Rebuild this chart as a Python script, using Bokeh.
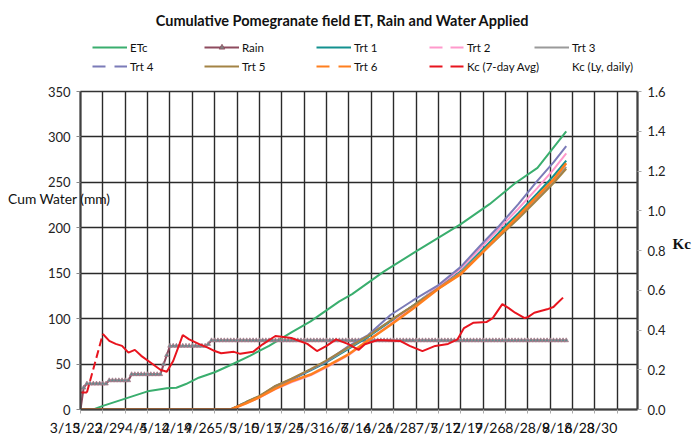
import numpy as np
from bokeh.plotting import figure
from bokeh.layouts import column
from bokeh.models import (Range1d, LinearAxis, FixedTicker, Legend, LegendItem, Label,
                          PrintfTickFormatter, CustomJSTickFormatter)
from bokeh.embed import file_html
from bokeh.resources import INLINE

# ---------------- data (x = days since 3/15) ----------------
week_labels = ["3/15", "3/22", "3/29", "4/5", "4/12", "4/19", "4/26", "5/3", "5/10",
               "5/17", "5/24", "5/31", "6/7", "6/14", "6/21", "6/28", "7/5", "7/12",
               "7/19", "7/26", "8/2", "8/9", "8/16", "8/23", "8/30"]
week_days = [7 * i for i in range(len(week_labels))]

etc_days = [0, 4, 7, 14, 21, 27, 30, 33, 37, 42, 47, 53, 59, 66, 72, 81, 85, 95, 105,
            119, 128, 136, 143, 152]
etc_mm = [0, 0, 4, 12, 20, 23.5, 24, 28, 35, 41, 49, 59, 70, 85, 97, 119, 127, 152, 174,
          204, 226, 249, 266, 306]

rain_event_days = [1, 2, 9, 16, 26, 27, 28, 40, 41]
rain_event_mm = [24, 4.4, 3.6, 6.7, 11, 10, 10.3, 2, 4]
rain_last_day = 152

trt_days = [0, 47, 52, 56, 61, 66, 72, 77, 84, 90, 97, 104, 112, 119, 125, 131, 137,
            143, 148, 152]
trt1 = [0, 0, 8.5, 14.5, 25, 33, 43, 52, 67, 80, 97, 114, 135, 152, 173, 195, 216, 238, 257, 274]
trt2 = [0, 0, 7, 13, 22.5, 30, 37.5, 46.5, 60, 76, 94, 113, 136, 155, 177, 199, 221, 244, 264, 282]
trt3 = [0, 0, 8, 14.5, 25.5, 33.5, 44, 53, 68, 81, 98, 114, 134, 151, 171, 192, 212, 233, 251, 267]
trt4 = [0, 0, 8, 14, 26, 33, 44, 53, 70, 82, 104, 120, 137, 157, 180, 202, 226, 252, 272, 290]
trt5 = [0, 0, 8.5, 15, 26, 34, 44.5, 54, 69, 81, 98, 114, 133, 150, 170, 190, 210, 231, 249, 265]
trt6 = [0, 0, 7, 13.5, 23, 31, 38.5, 47.5, 61, 76, 93, 111, 133, 149, 170, 192, 213, 235, 253, 271]

kc_days = [0, 2, 7, 9, 11, 13, 15, 17, 19, 22, 25, 27, 29, 31, 32, 34, 37, 40, 42, 44,
           48, 50, 54, 57, 61, 66, 71, 74, 77, 80, 84, 87, 89, 93, 100, 103, 107, 111,
           115, 118, 120, 123, 127, 129, 132, 134, 136, 139, 140, 142, 146, 148, 149, 151]
kc_avg = [0.085, 0.085, 0.38, 0.345, 0.33, 0.32, 0.286, 0.30, 0.27, 0.235, 0.20, 0.19,
          0.244, 0.33, 0.375, 0.353, 0.33, 0.31, 0.294, 0.283, 0.29, 0.28, 0.29, 0.328,
          0.37, 0.36, 0.33, 0.294, 0.32, 0.353, 0.328, 0.30, 0.328, 0.35, 0.345, 0.32,
          0.294, 0.32, 0.33, 0.353, 0.41, 0.437, 0.44, 0.46, 0.53, 0.51, 0.487, 0.46,
          0.465, 0.487, 0.504, 0.516, 0.532, 0.563]

left_ticks = [0, 50, 100, 150, 200, 250, 300, 350]
right_ticks = [0, 0.2, 0.4, 0.6, 0.8, 1.0, 1.2, 1.4, 1.6]

title_text = "Cumulative Pomegranate field ET, Rain and Water Applied"
left_title = "Cum Water (mm)"
right_title = "Kc"

# ---------------- layout constants (page pixels) ----------------
X_MAX = 174.3
Y_MAX = 350
PAGE_W, PAGE_H = 699, 443
FRAME_L, FRAME_T, FRAME_W, FRAME_H = 80, 91, 557, 318
FRAME_R = FRAME_L + FRAME_W
HEAD_H = 83
FONT = "Lato"


def img_y(py):
    return (FRAME_T + FRAME_H - py) / FRAME_H * Y_MAX


C_ETC, C_RAIN, C_T1, C_T2, C_T3 = "#3AAE6E", "#8E4B5E", "#13918F", "#FF99CC", "#9A9A9A"
C_T4, C_T5, C_T6, C_KC = "#7B7BB8", "#A38345", "#FF7F1E", "#E8141E"

# ================= header figure: title + legend (frame aligned with main frame) =================
head = figure(width=PAGE_W, height=HEAD_H,
              x_range=Range1d(FRAME_L, FRAME_R), y_range=Range1d(0, HEAD_H),
              output_backend="svg", toolbar_location=None, x_axis_type=None, y_axis_type=None,
              min_border_left=FRAME_L, min_border_right=PAGE_W - FRAME_R,
              min_border_top=0, min_border_bottom=0)
head.outline_line_color = None
head.xgrid.visible = False
head.ygrid.visible = False
head.add_layout(Label(x=342, y=HEAD_H - 20, text=title_text, text_align="center",
                      text_baseline="middle", text_font=FONT, text_font_size="14.5px",
                      text_font_style="bold", text_color="#111111"))

OFF = [-100]  # legend-only renderers: one point outside the header's visible range


def dummy(color, dash="solid", alpha=1.0):
    return head.line(OFF, OFF, line_color=color, line_width=2, line_dash=dash, line_alpha=alpha)


r_etc = dummy(C_ETC)
r_rain = dummy(C_RAIN)
r_rain_m = head.scatter(OFF, OFF, marker="triangle", size=5, fill_color="#7F7F7F",
                        line_color="#8E4B5E", line_width=0.8)
r_t1 = dummy(C_T1)
r_t2 = dummy(C_T2, "13 8")
r_t3 = dummy(C_T3)
r_t4 = dummy(C_T4, "13 9")
r_t5 = dummy(C_T5)
r_t6 = dummy(C_T6, "13 9")
r_kc = dummy(C_KC, "13 8")
r_ly = dummy("#000000", alpha=0.0)

legend_cols = [
    (92, [("ETc", [r_etc]), ("Trt 4", [r_t4])]),
    (204, [("Rain", [r_rain, r_rain_m]), ("Trt 5", [r_t5])]),
    (316, [("Trt 1", [r_t1]), ("Trt 6", [r_t6])]),
    (429, [("Trt 2", [r_t2]), ("Kc (7-day Avg)", [r_kc])]),
    (534, [("Trt 3", [r_t3]), ("Kc (Ly, daily)", [r_ly])]),
]
for gx, its in legend_cols:
    head.add_layout(Legend(
        items=[LegendItem(label=lab, renderers=rs) for lab, rs in its],
        location=(gx - FRAME_L, HEAD_H - 73), orientation="vertical",
        glyph_width=35, glyph_height=14, label_height=14, label_standoff=3,
        spacing=5, padding=0, margin=0, border_line_alpha=0, background_fill_alpha=0,
        label_text_font=FONT, label_text_font_size="11.5px", label_text_color="#111111"))

# ================= main figure =================
p = figure(frame_width=FRAME_W, frame_height=FRAME_H,
           x_range=Range1d(0, X_MAX), y_range=Range1d(0, Y_MAX),
           output_backend="svg", toolbar_location=None,
           min_border_left=FRAME_L, min_border_right=PAGE_W - FRAME_R,
           min_border_top=FRAME_T - HEAD_H,
           min_border_bottom=PAGE_H - FRAME_T - FRAME_H)
p.extra_y_ranges = {"kc": Range1d(0, 1.6)}
p.outline_line_color = "#333333"
p.outline_line_width = 1.5

# ---- x axis: weekly ticks, labels right-aligned at their tick (Excel-like) ----
p.xaxis.ticker = FixedTicker(ticks=week_days)
p.xaxis.formatter = CustomJSTickFormatter(
    args=dict(labels=week_labels),
    code="const i = Math.round(tick / 7); return (i >= 0 && i < labels.length) ? labels[i] : '';")
p.xaxis.major_label_orientation = 0.001
p.xaxis.axis_label = None
p.xaxis.axis_line_color = "#404040"
p.xaxis.axis_line_width = 2
p.xaxis.major_tick_line_color = "#aaaaaa"
p.xaxis.major_tick_out = 4
p.xaxis.major_tick_in = 0
p.xaxis.minor_tick_line_color = None
p.xaxis.major_label_standoff = 14
p.xaxis.major_label_text_font = FONT
p.xaxis.major_label_text_font_size = "14px"
p.xaxis.major_label_text_color = "#111111"

# ---- left axis ----
p.yaxis.ticker = FixedTicker(ticks=left_ticks)
p.yaxis.axis_line_color = "#404040"
p.yaxis.axis_line_width = 2
p.yaxis.major_tick_out = 4
p.yaxis.major_tick_in = 0
p.yaxis.major_tick_line_color = "#888888"
p.yaxis.minor_tick_line_color = None
p.yaxis.major_label_standoff = 6
p.yaxis.major_label_text_font = FONT
p.yaxis.major_label_text_font_size = "13px"
p.yaxis.major_label_text_color = "#222222"

# horizontal "Cum Water (mm)" title as a label-only axis
lt = LinearAxis(ticker=FixedTicker(ticks=[img_y(198)]),
                formatter=CustomJSTickFormatter(args=dict(t=left_title), code="return t;"))
lt.axis_line_color = None
lt.major_tick_line_color = None
lt.minor_tick_line_color = None
lt.major_tick_out = 0
lt.major_tick_in = 0
lt.major_label_standoff = -66
lt.major_label_text_font = FONT
lt.major_label_text_font_size = "13.8px"
lt.major_label_text_color = "#111111"
p.add_layout(lt, "left")

# ---- right axis (Kc) ----
rax = LinearAxis(y_range_name="kc", ticker=FixedTicker(ticks=right_ticks),
                 formatter=PrintfTickFormatter(format="%.1f"))
rax.axis_line_color = "#404040"
rax.axis_line_width = 2
rax.major_tick_out = 4
rax.major_tick_in = 0
rax.major_tick_line_color = "#aaaaaa"
rax.minor_tick_line_color = None
rax.major_label_standoff = 6
rax.major_label_text_font = FONT
rax.major_label_text_font_size = "13px"
rax.major_label_text_color = "#222222"
p.add_layout(rax, "right")

rt = LinearAxis(ticker=FixedTicker(ticks=[img_y(243)]),
                formatter=CustomJSTickFormatter(args=dict(t=right_title), code="return t;"))
rt.axis_line_color = None
rt.major_tick_line_color = None
rt.minor_tick_line_color = None
rt.major_tick_out = 0
rt.major_tick_in = 0
rt.major_label_standoff = 4
rt.major_label_text_font = "Liberation Serif"
rt.major_label_text_font_size = "15px"
rt.major_label_text_font_style = "bold"
rt.major_label_text_color = "#111111"
p.add_layout(rt, "right")

for g in (p.xgrid, p.ygrid):
    g.grid_line_color = "#2a2a2a"
    g.grid_line_width = 1.4

# ---------------- series ----------------
rain_days = np.arange(0, rain_last_day + 1)
rain_daily = np.zeros(len(rain_days))
for d, mm in zip(rain_event_days, rain_event_mm):
    rain_daily[d] += mm
rain_cum = np.cumsum(rain_daily)

p.line(etc_days, etc_mm, line_color=C_ETC, line_width=2)
p.line(rain_days, rain_cum, line_color=C_RAIN, line_width=2)
p.scatter(rain_days, rain_cum, marker="triangle", size=4.5, fill_color="#5E8C8C",
          line_color="#B07A8A", line_width=0.8)
for vals, col, w in ((trt1, C_T1, 2), (trt2, C_T2, 2), (trt3, C_T3, 2), (trt4, C_T4, 2),
                     (trt5, C_T5, 2), (trt6, C_T6, 2.5)):
    p.line(trt_days, vals, line_color=col, line_width=w)

p.line(kc_days[:2], kc_avg[:2], line_color=C_KC, line_width=2, y_range_name="kc")
p.line(kc_days[1:3], kc_avg[1:3], line_color=C_KC, line_width=2, line_dash="8 4",
       y_range_name="kc")
p.line(kc_days[2:], kc_avg[2:], line_color=C_KC, line_width=2, y_range_name="kc")

page = column(head, p, spacing=0)
open("out.html", "w").write(file_html(page, INLINE))
